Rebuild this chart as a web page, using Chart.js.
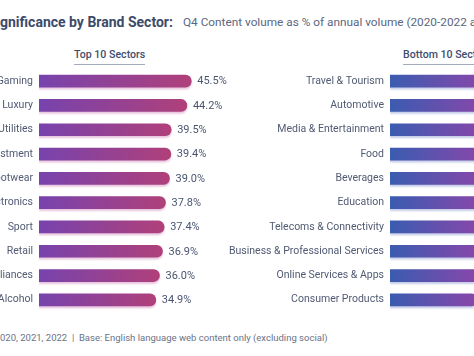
<!DOCTYPE html>
<html><head><meta charset="utf-8">
<script src="https://cdn.jsdelivr.net/npm/chart.js@4.4.1/dist/chart.umd.min.js"></script>
<style>
html,body{margin:0;padding:0;background:#fff;}
#wrap{position:relative;width:474px;height:356px;overflow:hidden;font-family:Roboto,sans-serif;}
.abs{position:absolute;white-space:nowrap;}
.pre{position:absolute;right:100%;top:0;}
#title{left:0;top:14px;font-size:14px;font-weight:700;color:#3d4a68;}
#sub{left:183px;top:15px;font-size:11.8px;color:#5c6680;}
.head{top:48px;font-size:10.6px;font-weight:500;color:#3f4d6b;border-bottom:1.5px solid #a4abbb;padding-bottom:3px;}
#foot{left:0;top:332px;font-size:9.5px;color:#6a7388;}
.cv{position:absolute;}
</style></head>
<body><div id="wrap">
<div class="abs" id="title"><span class="pre">Q4 Si</span>gnificance by Brand Sector:</div>
<div class="abs" id="sub">Q4 Content volume as % of annual volume (2020-2022 average)</div>
<div class="abs head" id="h1" style="left:74px">Top 10 Sectors</div>
<div class="abs head" id="h2" style="left:403px">Bottom 10 Sectors</div>
<div class="cv" style="left:0;top:69px;width:300px;height:243px"><canvas id="c1"></canvas></div>
<div class="cv" style="left:200px;top:69px;width:451px;height:243px"><canvas id="c2"></canvas></div>
<div class="abs" id="foot"><span class="pre">Period: 2</span>020, 2021, 2022&nbsp;&nbsp;|&nbsp;&nbsp;Base: English language web content only (excluding social)</div>
</div>
<script>
const topSectors = ["Gaming","Luxury","Utilities","Investment","Footwear","Electronics","Sport","Retail","Home Appliances","Alcohol"];
const topValues = [45.5,44.2,39.5,39.4,39.0,37.8,37.4,36.9,36.0,34.9];
const bottomSectors = ["Travel & Tourism","Automotive","Media & Entertainment","Food","Beverages","Education","Telecoms & Connectivity","Business & Professional Services","Online Services & Apps","Consumer Products"];
const bottomValues = [28.6,28.4,28.3,28.0,27.9,27.6,27.4,27.2,26.8,26.1];

function makeChart(id, labels, values, c0, c1, axisW, shadow){
  const grad = (ctx)=>{
    const ch = ctx.chart;
    if(!ch.chartArea) return c0;
    const xs = ch.scales.x;
    const x0 = xs.getPixelForValue(0), x1 = xs.getPixelForValue(ctx.raw);
    const g = ch.ctx.createLinearGradient(x0,0,x1,0);
    g.addColorStop(0,c0); g.addColorStop(1,c1);
    return g;
  };
  const fx = {
    id:'fx',
    beforeDatasetsDraw(ch){const c=ch.ctx;c.save();c.shadowColor=shadow;c.shadowOffsetY=2;c.shadowBlur=2;},
    afterDatasetsDraw(ch){
      ch.ctx.restore();
      const c=ch.ctx; c.save();
      c.font='11px Roboto'; c.fillStyle='#4a5570'; c.textBaseline='middle'; c.textAlign='left';
      ch.getDatasetMeta(0).data.forEach((b,i)=>{ c.fillText(values[i].toFixed(1)+'%', b.x+6, b.y+0.5); });
      c.restore();
    }
  };
  return new Chart(document.getElementById(id),{
    type:'bar',
    data:{labels, datasets:[{data:values, backgroundColor:grad, barThickness:12, borderRadius:6, borderSkipped:'start'}]},
    options:{
      indexAxis:'y', responsive:true, maintainAspectRatio:false, animation:false,
      layout:{padding:0},
      plugins:{legend:{display:false},tooltip:{enabled:false}},
      scales:{
        x:{min:0,max:78,display:false},
        y:{grid:{display:false,drawTicks:false},border:{display:false},
           ticks:{padding:6,color:'#505a72',font:{family:'Roboto',size:10.5},autoSkip:false},
           afterFit:(s)=>{s.width=axisW;s.paddingTop=0;s.paddingBottom=0;}}
      }
    },
    plugins:[fx]
  });
}
makeChart('c1', topSectors, topValues, '#7743ad', '#b0407a', 39, 'rgba(190,90,160,0.35)');
makeChart('c2', bottomSectors, bottomValues, '#3a5cb0', '#8a46aa', 190, 'rgba(90,110,190,0.35)');
</script>
</body></html>
